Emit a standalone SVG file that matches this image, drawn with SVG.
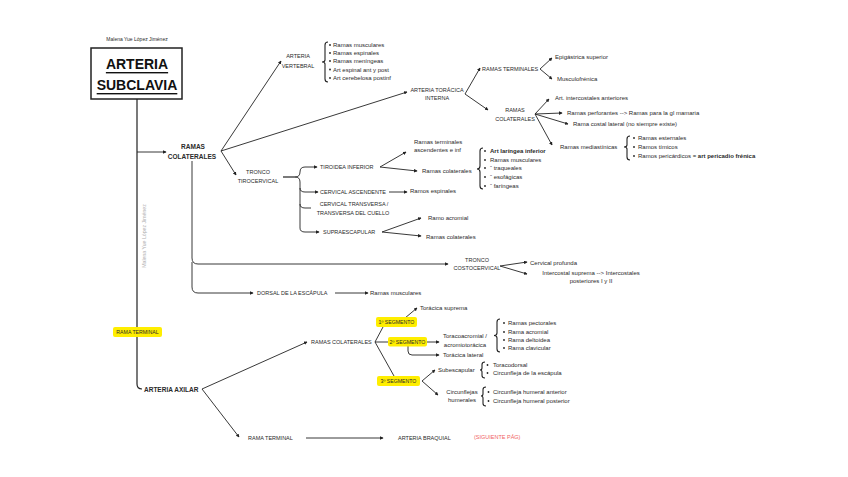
<svg xmlns="http://www.w3.org/2000/svg" width="848" height="477" viewBox="0 0 848 477">
<defs>
<marker id="ah" viewBox="0 0 6 6" refX="5" refY="3" markerWidth="3.6" markerHeight="3.6" markerUnits="userSpaceOnUse" orient="auto"><path d="M0,0 L6,3 L0,6 z" fill="#222"/></marker>
<style>
text{font-family:"Liberation Sans",Arial,sans-serif;fill:#2a2a2a;dominant-baseline:central}
.s{font-size:6px}
.u{font-size:5.5px}
.b{font-weight:bold}
.m{text-anchor:middle}
.ln{fill:none;stroke:#222;stroke-width:0.9}
.ar{marker-end:url(#ah)}
.br{fill:none;stroke:#222;stroke-width:1.1}
.hl{fill:#ffee00}
</style>
</defs>
<rect width="848" height="477" fill="#fff"/>

<g id="connectors">
<path class="ln" d="M137,99 V384 Q137,389 142,389" style="stroke-width:1.2"/>
<path class="ln ar" d="M137,152 H166"/>
<path class="ln ar" d="M221,151 L281,61"/>
<path class="ln ar" d="M221,151 L407,92"/>
<path class="ln ar" d="M221,151 L236,175"/>
<path class="ln ar" d="M465,94 L480,68"/>
<path class="ln ar" d="M465,94 L488,110"/>
<path class="ln ar" d="M540,69 L552,58"/>
<path class="ln ar" d="M540,69 L552,79"/>
<path class="ln ar" d="M535,114 L549,99"/>
<path class="ln ar" d="M535,114 L562,113"/>
<path class="ln ar" d="M535,114 L568,124"/>
<path class="ln ar" d="M535,114 L552,145"/>
<path class="ln" d="M283,177 H295" style="stroke-width:1.2"/>
<path class="ln ar" d="M295,177 Q300,177 300,172 Q300,167 305,167 H317"/>
<path class="ln ar" d="M295,177 Q300,177 300,182 V228 Q300,232 305,232 H319"/>
<path class="ln ar" d="M300,188 Q300,192 305,192 H318"/>
<path class="ln" d="M300,204 Q300,208 305,208 H311"/>
<path class="ln ar" d="M380,167 L406,152"/>
<path class="ln ar" d="M380,167 L417,171"/>
<path class="ln ar" d="M389,192 H407"/>
<path class="ln ar" d="M382,232 L421,218"/>
<path class="ln ar" d="M382,232 L421,236"/>
<path class="ln ar" d="M192,161 V258 Q192,264 198,264 H448"/>
<path class="ln ar" d="M192,262 V287 Q192,293 198,293 H253"/>
<path class="ln ar" d="M500,266 L527,262"/>
<path class="ln ar" d="M500,266 L527,274"/>
<path class="ln ar" d="M335,293 H368"/>
<path class="ln ar" d="M202,389 L307,342"/>
<path class="ln ar" d="M202,389 L239,437"/>
<path class="ln" d="M375,342 L383,327"/>
<path class="ln" d="M375,342 H388"/>
<path class="ln" d="M375,342 L394,376"/>
<path class="ln ar" d="M405,318 L417,308"/>
<path class="ln ar" d="M427,342 H439"/>
<path class="ln ar" d="M408,346 V351 Q408,355 412,355 H439"/>
<path class="ln ar" d="M422,381 L435,370"/>
<path class="ln ar" d="M422,381 L438,395"/>
<path class="ln ar" d="M306,438 H383"/>
</g>

<g id="title">
<text class="m" x="137" y="39" style="font-size:5px">Malena Yue López Jiménez</text>
<rect x="91" y="48" width="91" height="51" fill="none" stroke="#222" stroke-width="1.5"/>
<text class="m b" x="137" y="64" style="font-size:14px;text-decoration:underline;fill:#111">ARTERIA</text>
<text class="m b" x="137" y="85" style="font-size:14px;text-decoration:underline;fill:#111">SUBCLAVIA</text>
</g>

<g id="watermark">
<text class="m" transform="translate(144,236) rotate(-90)" style="font-size:5.2px;fill:#b0b0b0">Malena Yue López Jiménez</text>
</g>

<g id="ramas-colaterales">
<text class="m b" x="193" y="146" style="font-size:6.5px">RAMAS</text>
<text class="m b" x="192" y="156" style="font-size:6.5px">COLATERALES</text>
</g>

<g id="arteria-vertebral">
<text class="u m" x="298" y="56">ARTERIA</text>
<text class="u m" x="298" y="66">VERTEBRAL</text>
<path class="br" d="M328,42 Q325,42 325,45 V60 Q325,62 322,62 Q325,62 325,64 V79 Q325,82 328,82"/>
<g fill="#222"><circle cx="330" cy="45" r="0.9"/><circle cx="330" cy="53" r="0.9"/><circle cx="330" cy="61" r="0.9"/><circle cx="330" cy="69.5" r="0.9"/><circle cx="330" cy="78" r="0.9"/></g>
<text class="s" x="333" y="45">Ramas musculares</text>
<text class="s" x="333" y="53">Ramas espinales</text>
<text class="s" x="333" y="61">Ramas meníngeas</text>
<text class="s" x="333" y="69.5">Art espinal ant y post</text>
<text class="s" x="333" y="78">Art cerebelosa postinf</text>
</g>

<g id="toracica-interna">
<text class="u m" x="437" y="90">ARTERIA TORÁCICA</text>
<text class="u m" x="437" y="98">INTERNA</text>
</g>

<g id="ramas-terminales-ti">
<text class="u" x="482" y="69">RAMAS TERMINALES</text>
<text class="s" x="555" y="57">Epigástrica superior</text>
<text class="s" x="557" y="79">Musculofrénica</text>
</g>

<g id="ramas-colaterales-ti">
<text class="u m" x="515" y="110">RAMAS</text>
<text class="u m" x="515" y="119">COLATERALES</text>
<text class="s" x="555" y="98">Art. intercostales anteriores</text>
<text class="s" x="567" y="113">Ramas perforantes --&gt; Ramas para la gl mamaria</text>
<text class="s" x="573" y="124">Rama costal lateral (no siempre existe)</text>
<text class="s" x="560" y="147">Ramas mediastínicas</text>
<path class="br" d="M630,136 Q627,136 627,139 V145 Q627,147 624,147 Q627,147 627,149 V157 Q627,160 630,160"/>
<g fill="#222"><circle cx="634" cy="138" r="0.9"/><circle cx="634" cy="147" r="0.9"/><circle cx="634" cy="156" r="0.9"/></g>
<text class="s" x="638" y="138">Ramas esternales</text>
<text class="s" x="638" y="147">Ramos tímicos</text>
<text class="s" x="638" y="156">Ramos pericárdicos = <tspan class="b">art pericadio frénica</tspan></text>
</g>

<g id="tronco-tirocervical">
<text class="u m" x="258" y="172">TRONCO</text>
<text class="u m" x="258" y="181">TIROCERVICAL</text>
</g>

<g id="tiroidea-inferior">
<text class="u" x="320" y="167">TIROIDEA INFERIOR</text>
<text class="s" x="414" y="142">Ramas terminales</text>
<text class="s" x="414" y="150">ascendentes e inf</text>
<text class="s" x="422" y="171">Ramas colaterales</text>
<path class="br" d="M483,148 Q480,148 480,151 V166 Q480,169 477,169 Q480,169 480,172 V186 Q480,189 483,189"/>
<g fill="#222"><circle cx="485" cy="151" r="0.9"/><circle cx="485" cy="160" r="0.9"/><circle cx="485" cy="168" r="0.9"/><circle cx="485" cy="177" r="0.9"/><circle cx="485" cy="186" r="0.9"/></g>
<text class="s b" x="490" y="151">Art laríngea inferior</text>
<text class="s" x="490" y="160">Ramas musculares</text>
<text class="s" x="490" y="168">“ traqueales</text>
<text class="s" x="490" y="177">“ esofágicas</text>
<text class="s" x="490" y="186">“ faríngeas</text>
</g>

<g id="cervical-ascendente">
<text class="u" x="320" y="192">CERVICAL ASCENDENTE</text>
<text class="s" x="410" y="191">Ramos espinales</text>
</g>

<g id="cervical-transversa">
<text class="u m" x="354" y="204">CERVICAL TRANSVERSA /</text>
<text class="u m" x="353" y="213">TRANSVERSA DEL CUELLO</text>
</g>

<g id="supraescapular">
<text class="u" x="323" y="232">SUPRAESCAPULAR</text>
<text class="s" x="428" y="218">Ramo acromial</text>
<text class="s" x="426" y="237">Ramas colaterales</text>
</g>

<g id="tronco-costocervical">
<text class="u m" x="477" y="260">TRONCO</text>
<text class="u m" x="477" y="268">COSTOCERVICAL</text>
<text class="s" x="530" y="263">Cervical profunda</text>
<text class="s m" x="591" y="273">Intercostal suprema --&gt; Intercostales</text>
<text class="s m" x="591" y="281">posteriores I y II</text>
</g>

<g id="dorsal-escapula">
<text class="u" x="257" y="293">DORSAL DE LA ESCÁPULA</text>
<text class="s" x="370" y="293">Ramas musculares</text>
</g>

<g id="rama-terminal-label">
<rect class="hl" x="113" y="327" width="49" height="10" rx="2"/>
<text class="m" x="137.5" y="332" style="font-size:5.2px">RAMA TERMINAL</text>
</g>

<g id="arteria-axilar">
<text class="b" x="144" y="389" style="font-size:6.5px">ARTERIA AXILAR</text>
</g>

<g id="axilar-colaterales">
<text class="u" x="311" y="342">RAMAS COLATERALES</text>
</g>

<g id="segmento-1">
<rect class="hl" x="376" y="317" width="41" height="10" rx="2"/>
<text class="m" x="396.5" y="322" style="font-size:5.2px">1º SEGMENTO</text>
<text class="s" x="420" y="308">Torácica suprema</text>
</g>

<g id="segmento-2">
<rect class="hl" x="388" y="337" width="39" height="9.5" rx="2"/>
<text class="m" x="407.5" y="341.7" style="font-size:5.2px">2º SEGMENTO</text>
<text class="s m" x="465" y="336">Toracoacromial /</text>
<text class="s m" x="465" y="345">acromiotorácica</text>
<text class="s" x="443" y="355">Torácica lateral</text>
<path class="br" d="M500,319 Q497,319 497,322 V333 Q497,335.5 494,335.5 Q497,335.5 497,338 V349 Q497,352 500,352"/>
<g fill="#222"><circle cx="504" cy="323" r="0.9"/><circle cx="504" cy="332" r="0.9"/><circle cx="504" cy="340" r="0.9"/><circle cx="504" cy="348" r="0.9"/></g>
<text class="s" x="508" y="323">Ramas pectorales</text>
<text class="s" x="508" y="332">Rama acromial</text>
<text class="s" x="508" y="340">Rama deltoidea</text>
<text class="s" x="508" y="348">Rama clavicular</text>
</g>

<g id="segmento-3">
<rect class="hl" x="377" y="376" width="43" height="10" rx="2"/>
<text class="m" x="398.5" y="381" style="font-size:5.2px">3º SEGMENTO</text>
<text class="s" x="438" y="370">Subescapular</text>
<path class="br" d="M485,362 Q482,362 482,364.5 V368 Q482,370 480,370 Q482,370 482,372 V375.5 Q482,378 485,378"/>
<g fill="#222"><circle cx="487.5" cy="365" r="0.9"/><circle cx="487.5" cy="373" r="0.9"/></g>
<text class="s" x="493" y="365">Toracodorsal</text>
<text class="s" x="493" y="373">Circunfleja de la escápula</text>
<text class="s m" x="462" y="392">Circunflejas</text>
<text class="s m" x="462" y="400">humerales</text>
<path class="br" d="M486,387 Q483,387 483,389.5 V394 Q483,396 481,396 Q483,396 483,398 V403.5 Q483,406 486,406"/>
<g fill="#222"><circle cx="488.5" cy="392" r="0.9"/><circle cx="488.5" cy="401" r="0.9"/></g>
<text class="s" x="493" y="392">Circunfleja humeral anterior</text>
<text class="s" x="493" y="401">Circunfleja humeral posterior</text>
</g>

<g id="rama-terminal-axilar">
<text class="u" x="248" y="438">RAMA TERMINAL</text>
</g>

<g id="arteria-braquial">
<text class="u" x="398" y="438">ARTERIA BRAQUIAL</text>
<text class="u" x="474" y="437" style="fill:#f06464">(SIGUIENTE PÁG)</text>
</g>
</svg>
